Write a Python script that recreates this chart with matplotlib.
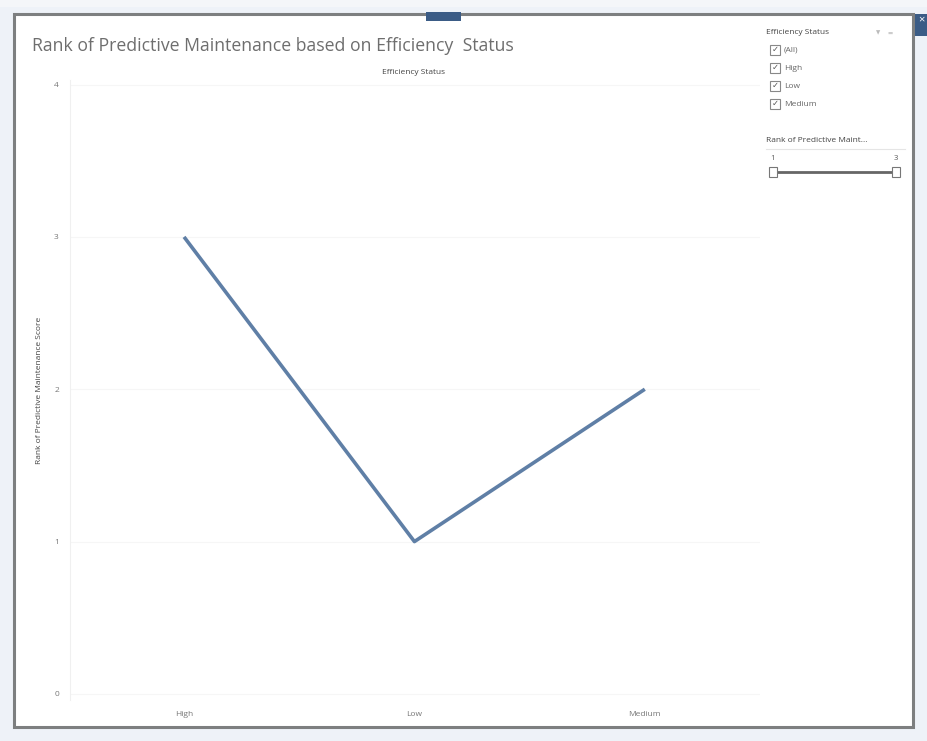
import matplotlib.pyplot as plt
from matplotlib.patches import Rectangle

status = ['High', 'Low', 'Medium']
rank_score = [3, 1, 2]
y_ticks = [0, 1, 2, 3, 4]
filter_items = ['(All)', 'High', 'Low', 'Medium']

W, H = 927, 741
plt.rcParams['font.family'] = ['Open Sans', 'DejaVu Sans']

fig = plt.figure(figsize=(W / 100, H / 100), dpi=100)
fig.patch.set_facecolor('#eef2f8')


def px(x, y):
    # pixel coordinates (top-left origin) -> figure fraction
    return x / W, 1 - y / H


def box(x0, y0, x1, y1, z=-1, **kw):
    fig.patches.append(Rectangle(px(x0, y1), (x1 - x0) / W, (y1 - y0) / H,
                                 transform=fig.transFigure, zorder=z, **kw))


# dashboard panel and chrome
box(14, 14, 913, 727, facecolor='white', edgecolor='#7d7f80', linewidth=2.2)
box(915, 14, 927, 36, facecolor='#3b5c86', edgecolor='none')
box(426, 12, 461, 21, facecolor='#3b5c86', edgecolor='none')
fig.text(*px(921, 20), '×', color='white', fontsize=8, ha='center', va='center')
box(0, 0, 927, 7, facecolor='#f4f6f9', edgecolor='none')

# title and header
fig.text(*px(32, 46), 'Rank of Predictive Maintenance based on Efficiency  Status',
         fontsize=12.7, color='#6e6e6e', va='center', ha='left')
fig.text(*px(414, 72), 'Efficiency Status', fontsize=6, color='#444444',
         ha='center', va='center')

# main plot
left, right, top, bottom = 70, 760, 80, 700
ax = fig.add_axes([left / W, 1 - bottom / H, (right - left) / W, (bottom - top) / H])
ax.set_zorder(2)
ax.set_facecolor('white')
x = list(range(len(status)))
ax.plot(x, rank_score, color='#5f7fa6', linewidth=2.6, solid_capstyle='butt')
ax.set_xlim(-0.495, 2.5)
ax.set_ylim(-0.04, 4.03)
ax.set_xticks(x)
ax.set_xticklabels(status)
ax.set_yticks(y_ticks)
ax.tick_params(axis='both', length=0, labelsize=6, labelcolor='#777777')
ax.tick_params(axis='y', pad=8)
ax.tick_params(axis='x', pad=8)
for v in y_ticks:
    ax.axhline(v, color='#f6f6f6', linewidth=0.8, zorder=0)
for s in ['top', 'right', 'bottom']:
    ax.spines[s].set_visible(False)
ax.spines['left'].set_color('#f0f0f0')
ax.spines['left'].set_linewidth(0.8)
ax.set_ylabel('Rank of Predictive Maintenance Score', fontsize=6, color='#444444',
              labelpad=8)

# filter card
fig.text(*px(766, 33), 'Efficiency Status', fontsize=6, color='#444444', va='center')
fig.text(*px(876, 33), '▼', fontsize=4, color='#bbbbbb', va='center')
fig.text(*px(888, 33), '▬', fontsize=4, color='#cccccc', va='center')
for i, item in enumerate(filter_items):
    yy = 50 + i * 18
    box(770, yy - 5, 780, yy + 5, z=3, facecolor='white', edgecolor='#888888',
        linewidth=0.8)
    fig.text(*px(775, yy), '✓', fontsize=6, color='#555555', ha='center', va='center',
             zorder=4)
    fig.text(*px(784, yy), item, fontsize=6, color='#666666', va='center')

fig.text(*px(766, 141), 'Rank of Predictive Maint...', fontsize=6, color='#444444',
         va='center')
fig.lines.append(plt.Line2D([766 / W, 905 / W], [1 - 149 / H] * 2,
                            transform=fig.transFigure, color='#e5e5e5', linewidth=0.8))
fig.text(*px(773, 158), '1', fontsize=5.5, color='#555555', ha='center', va='center')
fig.text(*px(896, 158), '3', fontsize=5.5, color='#555555', ha='center', va='center')
fig.lines.append(plt.Line2D([773 / W, 896 / W], [1 - 172 / H] * 2,
                            transform=fig.transFigure, color='#666666', linewidth=2))
for hx in (773, 896):
    box(hx - 4, 167, hx + 4, 177, z=3, facecolor='white', edgecolor='#777777',
        linewidth=0.8)

fig.savefig('out.png', dpi=100, facecolor=fig.get_facecolor())
